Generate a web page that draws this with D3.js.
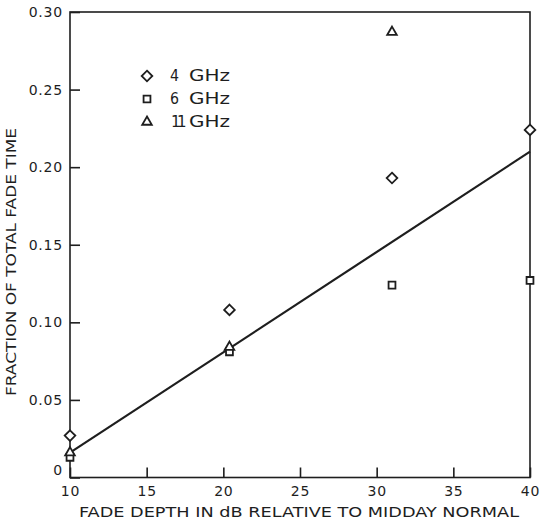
<!DOCTYPE html>
<html>
<head>
<meta charset="utf-8">
<script src="https://cdn.jsdelivr.net/npm/d3@7/dist/d3.min.js"></script>
<style>
  html, body { margin: 0; padding: 0; background: #fff; }
  svg { display: block; }
  text { font-family: "DejaVu Sans", "Liberation Sans", sans-serif; fill: #1e1e1e; }
</style>
</head>
<body>
<svg id="chart" width="540" height="523"></svg>
<script>
// Fade depth (dB relative to midday normal) and fraction of total fade time
const seriesNames = ["4 GHz", "6 GHz", "11 GHz"];
const depth4 = [10, 20.4, 31, 40];
const frac4 = [0.027, 0.108, 0.193, 0.224];
const depth6 = [10, 20.4, 31, 40];
const frac6 = [0.013, 0.081, 0.124, 0.127];
const depth11 = [10, 20.4, 31];
const frac11 = [0.016, 0.084, 0.287];
// Fitted straight line
const fitDepth = [10, 40];
const fitFrac = [0.016, 0.210];
// Axis ticks
const xTicks = [10, 15, 20, 25, 30, 35, 40];
const yTicks = [0, 0.05, 0.10, 0.15, 0.20, 0.25, 0.30];
const yTickLabels = ["0", "0.05", "0.10", "0.15", "0.20", "0.25", "0.30"];
const xTitle = "FADE DEPTH IN dB RELATIVE TO MIDDAY NORMAL";
const yTitle = "FRACTION OF TOTAL FADE TIME";

const ink = "#1e1e1e";
const margin = { left: 70, right: 10, top: 12, bottom: 45.5 };
const W = 540, H = 523;
const svg = d3.select("#chart");
const g = svg.append("g").attr("transform", `translate(${margin.left},${margin.top})`);
const iw = W - margin.left - margin.right;
const ih = H - margin.top - margin.bottom;

const x = d3.scaleLinear().domain([10, 40]).range([0, iw]);
const y = d3.scaleLinear().domain([0, 0.30]).range([ih, 0]);

// Frame
g.append("rect").attr("x", 0).attr("y", 0).attr("width", iw).attr("height", ih)
  .attr("fill", "none").attr("stroke", ink).attr("stroke-width", 1.6);

// Inward ticks on bottom and left axes
const xAxis = g.append("g").attr("transform", `translate(0,${ih})`)
  .call(d3.axisBottom(x).tickValues(xTicks).tickSize(-10).tickPadding(9).tickFormat(d3.format("d")));
const yAxis = g.append("g")
  .call(d3.axisLeft(y).tickValues(yTicks).tickSize(-10).tickPadding(7)
    .tickFormat((d, i) => yTickLabels[i]));
[xAxis, yAxis].forEach(a => {
  a.select(".domain").remove();
  a.selectAll(".tick line").attr("stroke", ink).attr("stroke-width", 1.6);
  a.selectAll(".tick text").attr("font-size", 14).attr("letter-spacing", 0.8).attr("fill", ink);
});
yAxis.selectAll(".tick text").filter(d => d === 0).attr("dy", "-0.2em");

// Axis titles
svg.append("text").attr("x", 299).attr("y", 517).attr("text-anchor", "middle")
  .attr("font-size", 13.5).attr("textLength", 440).attr("lengthAdjust", "spacingAndGlyphs").text(xTitle);
svg.append("text").attr("transform", "translate(16,262) rotate(-90)").attr("text-anchor", "middle")
  .attr("font-size", 13.5).attr("textLength", 268).attr("lengthAdjust", "spacingAndGlyphs").text(yTitle);

// Fitted line
g.append("path")
  .datum(fitDepth.map((d, i) => [d, fitFrac[i]]))
  .attr("d", d3.line().x(d => x(d[0])).y(d => y(d[1])))
  .attr("fill", "none").attr("stroke", ink).attr("stroke-width", 2.2);

// Marker shapes
const shapes = [
  d3.symbol().type(d3.symbolDiamond2).size(72),
  d3.symbol().type(d3.symbolSquare2).size(60),
  d3.symbol().type(d3.symbolTriangle2).size(66)
];
const series = [
  { depth: depth4, frac: frac4 },
  { depth: depth6, frac: frac6 },
  { depth: depth11, frac: frac11 }
];
series.forEach((s, k) => {
  g.append("g").selectAll("path")
    .data(s.depth.map((d, i) => [d, s.frac[i]]))
    .join("path")
    .attr("d", shapes[k]())
    .attr("transform", d => `translate(${x(d[0])},${y(d[1])})`)
    .attr("fill", "#fff").attr("stroke", ink).attr("stroke-width", 1.8);
});

// Legend: frequency number and unit set as separate, widened pieces of lettering
const legend = svg.append("g").attr("transform", "translate(147,76)");
seriesNames.forEach((name, k) => {
  const [num, unit] = name.split(" ");
  const row = legend.append("g").attr("transform", `translate(0,${k * 23})`);
  row.append("path").attr("d", shapes[k]())
    .attr("fill", "#fff").attr("stroke", ink).attr("stroke-width", 1.8);
  const numText = row.append("text").attr("y", 0).attr("dy", "0.36em").attr("font-size", 15).text(num);
  if (num.length > 1) {
    numText.attr("x", 24).attr("letter-spacing", -3.5);
  } else {
    numText.attr("x", 23).attr("textLength", 9).attr("lengthAdjust", "spacingAndGlyphs");
  }
  row.append("text").attr("x", 42).attr("y", 0).attr("dy", "0.36em")
    .attr("font-size", 15).attr("textLength", 41).attr("lengthAdjust", "spacingAndGlyphs")
    .text(unit);
});
</script>
</body>
</html>
